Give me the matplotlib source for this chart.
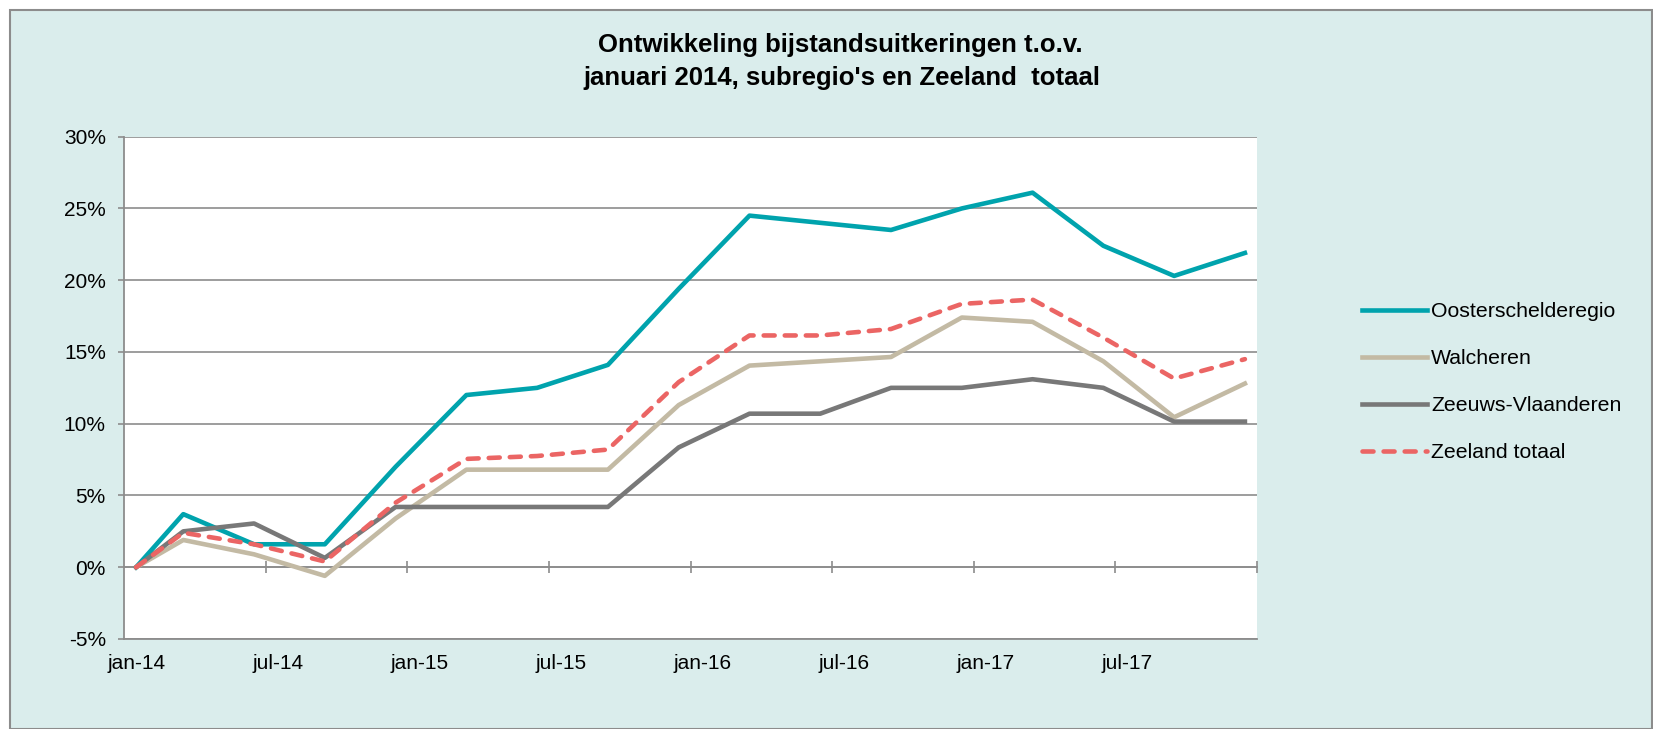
import numpy as np
import pandas as pd
import matplotlib
matplotlib.use('Agg')
import matplotlib.pyplot as plt
from matplotlib.patches import Rectangle
from matplotlib.ticker import FuncFormatter

plt.rcParams['font.family'] = ['Liberation Sans', 'DejaVu Sans']

# peildata (kwartaalstanden, t.o.v. januari 2014)
peildata = ['2014-01', '2014-03', '2014-06', '2014-09', '2014-12',
            '2015-03', '2015-06', '2015-09', '2015-12',
            '2016-03', '2016-06', '2016-09', '2016-12',
            '2017-03', '2017-06', '2017-09', '2017-12']

oosterschelderegio = [0.0, 3.7, 1.6, 1.6, 7.0, 12.0, 12.5, 14.1, 19.4,
                      24.5, 24.0, 23.5, 25.0, 26.1, 22.4, 20.3, 21.9]
walcheren = [0.0, 1.9, 0.9, -0.6, 3.4, 6.8, 6.8, 6.8, 11.3,
             14.05, 14.35, 14.65, 17.4, 17.1, 14.35, 10.45, 12.8]
zeeuws_vlaanderen = [0.0, 2.5, 3.05, 0.65, 4.2, 4.2, 4.2, 4.2, 8.35,
                     10.7, 10.7, 12.5, 12.5, 13.1, 12.5, 10.15, 10.15]
zeeland_totaal = [0.0, 2.4, 1.6, 0.4, 4.5, 7.55, 7.75, 8.2, 12.9,
                  16.15, 16.15, 16.6, 18.35, 18.65, 16.0, 13.15, 14.5]

xlabels = ['jan-14', 'jul-14', 'jan-15', 'jul-15', 'jan-16', 'jul-16', 'jan-17', 'jul-17']

# months since jan-14 (date axis with month as base unit)
d = pd.to_datetime(peildata)
maand = np.array((d.year - 2014) * 12 + d.month - 1)

bg = '#daedec'
grid = '#8c8c8c'

W, H = 1653, 729
fig = plt.figure(figsize=(W / 100, H / 100), dpi=100, facecolor='white')
fig.patches.append(Rectangle((10 / W, 0), (W - 11) / W, (H - 10) / H, transform=fig.transFigure,
                             facecolor=bg, edgecolor=grid, lw=1.5, zorder=-10))

ax = fig.add_axes([124.3 / W, (H - 639) / H, (1256.7 - 124.3) / W, (639 - 136.7) / H])
ax.set_facecolor('white')

ax.plot(maand, oosterschelderegio, color='#00a3ad', lw=3.3, label='Oosterschelderegio', zorder=3)
ax.plot(maand, walcheren, color='#c3baa4', lw=3.3, label='Walcheren', zorder=3)
ax.plot(maand, zeeuws_vlaanderen, color='#787878', lw=3.3, label='Zeeuws-Vlaanderen', zorder=3)
ax.plot(maand, zeeland_totaal, color='#eb6564', lw=3.3, ls=(0, (2.4, 2.2)),
        dash_capstyle='round', label='Zeeland totaal', zorder=4)

ax.set_xlim(-0.5, 47.5)
ax.set_ylim(-5, 30)
ax.set_yticks(np.arange(-5, 31, 5))
ax.yaxis.set_major_formatter(FuncFormatter(lambda v, p: '%d%%' % v))
ax.set_xticks(np.arange(0, 48, 6))
ax.set_xticklabels(xlabels)

ax.grid(axis='y', color=grid, lw=1.2, zorder=1)
ax.set_axisbelow(True)
for s in ['top', 'right']:
    ax.spines[s].set_visible(False)
ax.spines['left'].set_color(grid)
ax.spines['left'].set_linewidth(1.3)
ax.spines['bottom'].set_color(grid)
ax.spines['bottom'].set_linewidth(1.3)

ax.tick_params(axis='y', direction='out', length=4.3, width=1.2, color=grid,
               labelsize=15, pad=9, labelcolor='black')
ax.tick_params(axis='x', length=0, labelsize=15, pad=11, labelcolor='black')

# horizontal axis crosses at 0%: tick marks between the months
sec = ax.secondary_xaxis(5 / 35)
sec.set_xticks(np.arange(5.5, 48, 6))
sec.set_xticklabels([])
sec.tick_params(direction='inout', length=9, width=1.2, color=grid)
sec.spines['bottom'].set_color(grid)
sec.spines['bottom'].set_linewidth(1.2)

fig.text(840 / W, 1 - 45 / H, 'Ontwikkeling bijstandsuitkeringen t.o.v.', ha='center', va='center',
         fontsize=18.5, fontweight='bold')
fig.text(842 / W, 1 - 78 / H, "januari 2014, subregio's en Zeeland  totaal", ha='center', va='center',
         fontsize=18.5, fontweight='bold')

fig.legend(loc='upper left', bbox_to_anchor=(1361.7 / W, 1 - 302 / H), frameon=False,
           fontsize=15.3, handlelength=3.05, handletextpad=0.22, labelspacing=1.32,
           borderpad=0, borderaxespad=0)

plt.savefig('out.png', dpi=100, facecolor=fig.get_facecolor())
